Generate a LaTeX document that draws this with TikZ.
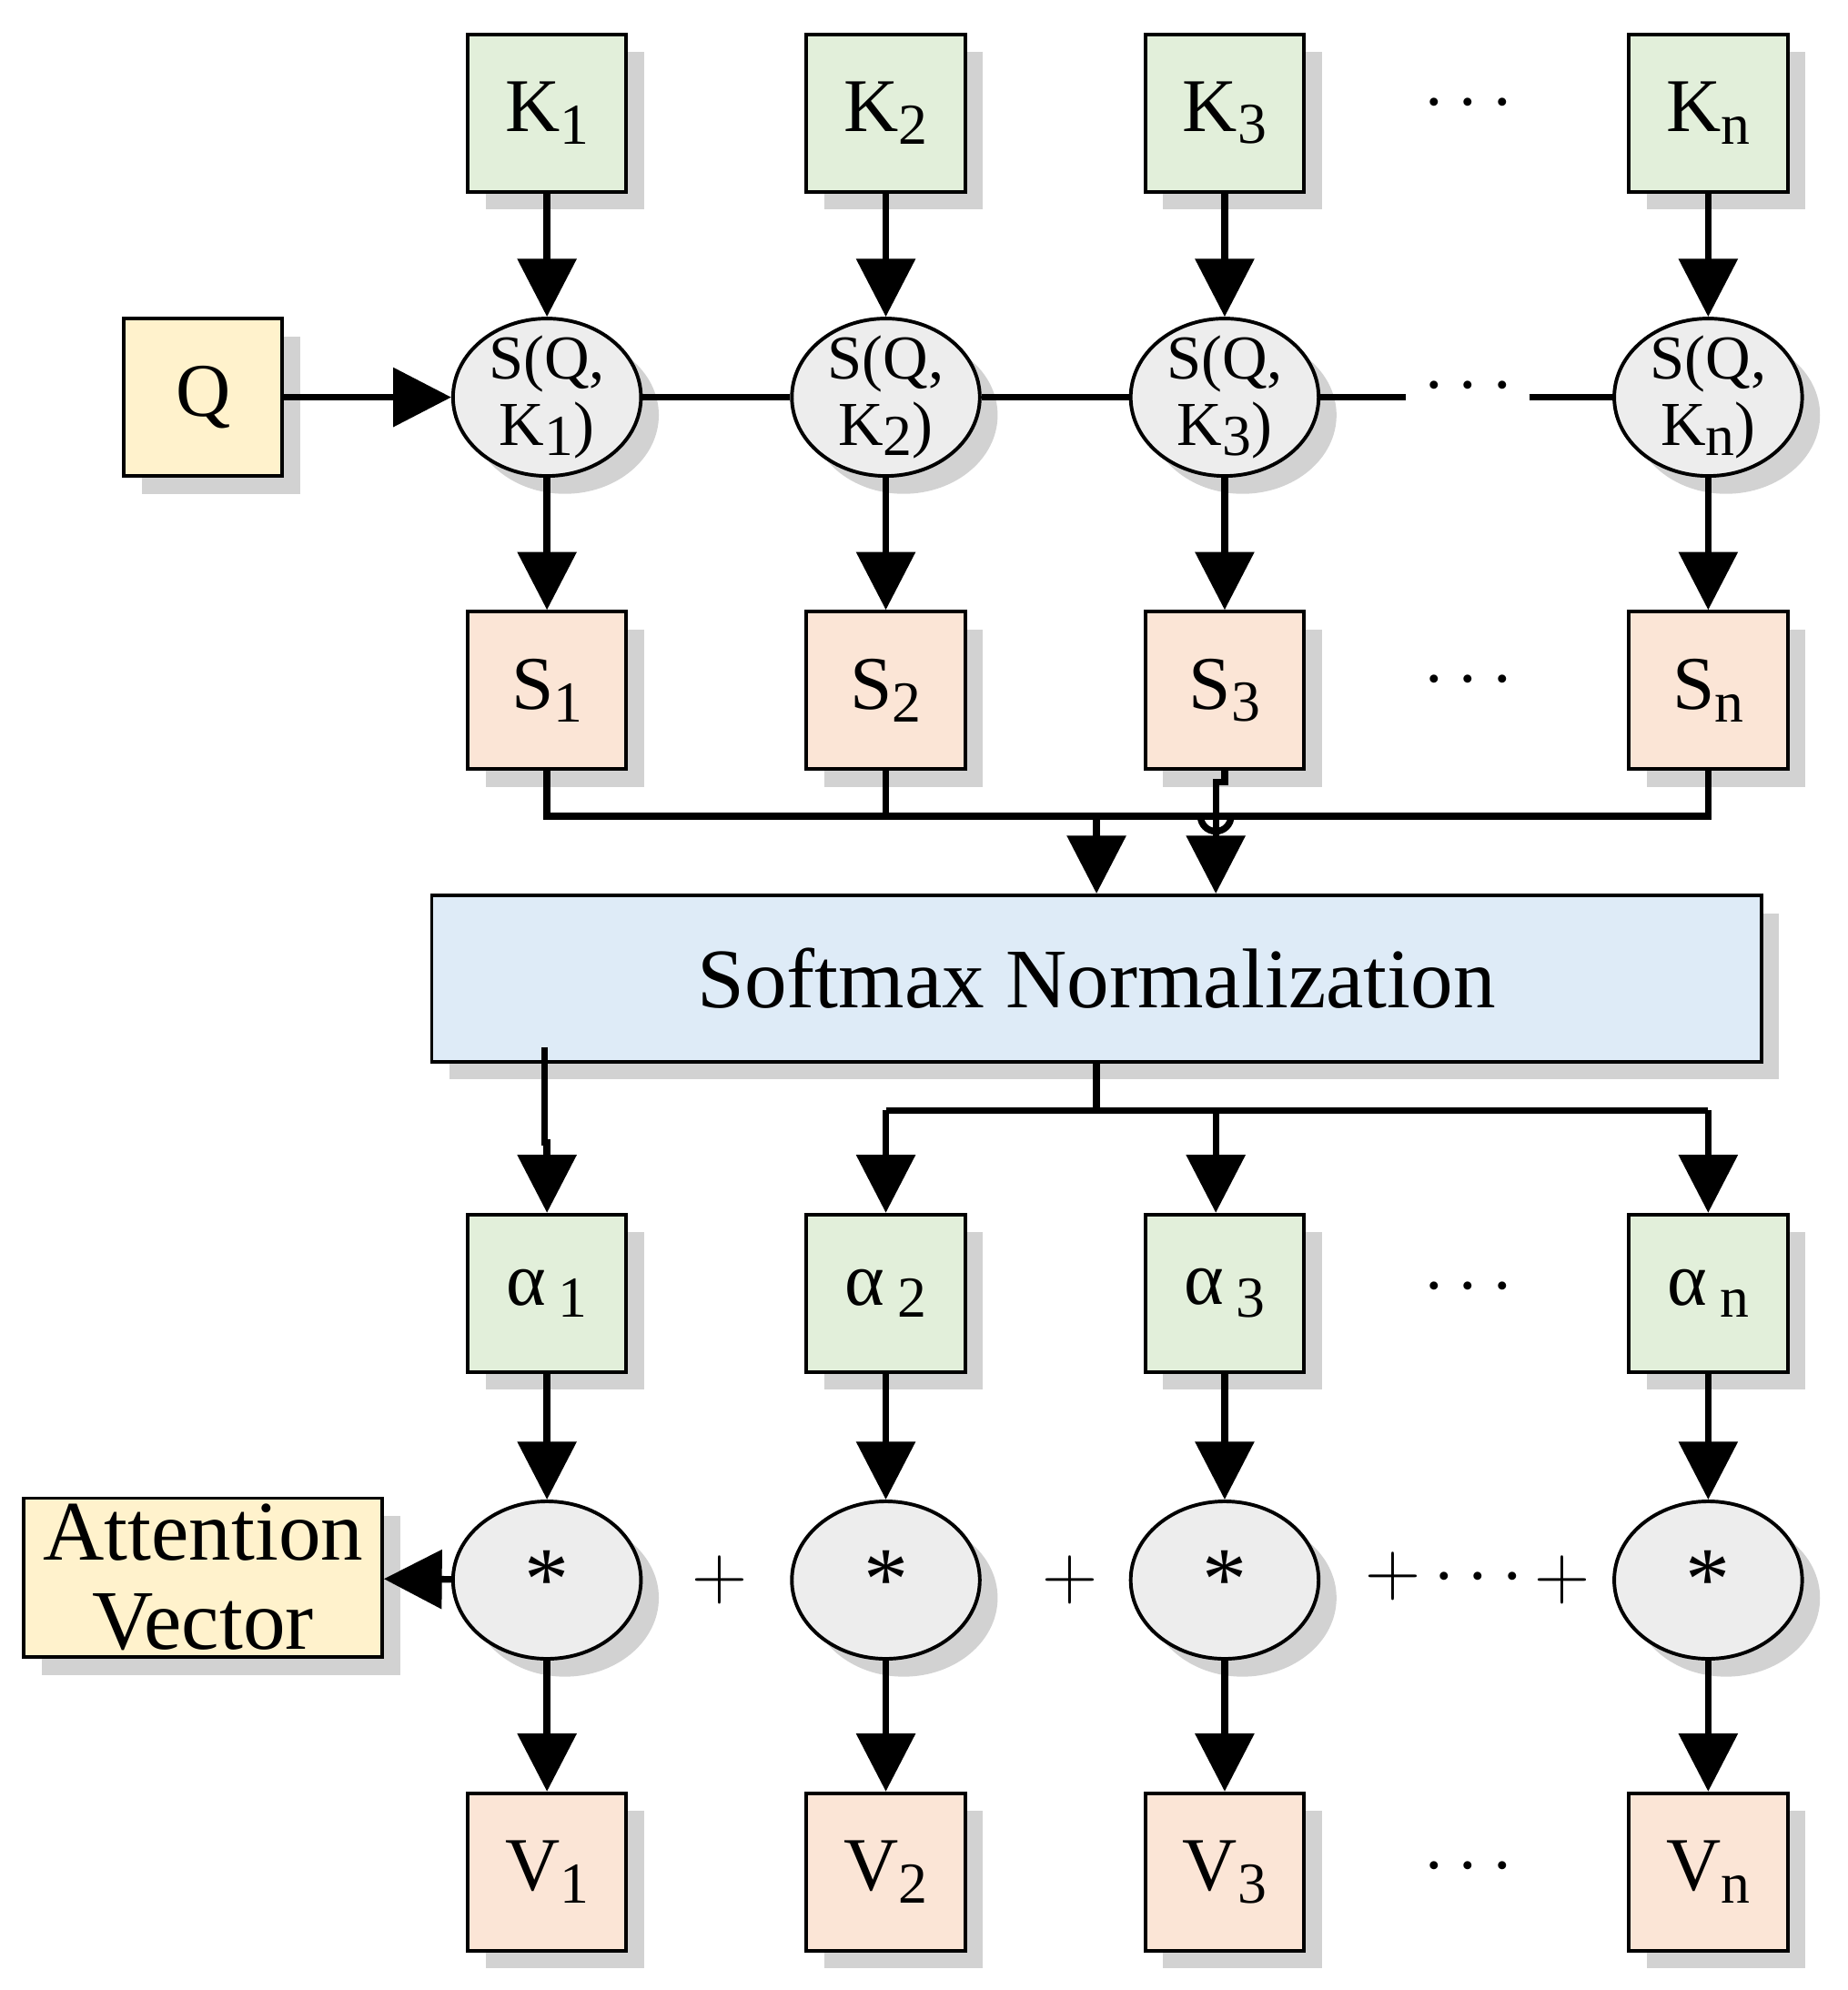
\documentclass[tikz,border=0pt]{standalone}
\usepackage{fontspec}
\setmainfont{Liberation Serif}
\usetikzlibrary{arrows.meta, shadows, positioning, shapes.geometric}
\definecolor{kgreen}{HTML}{E2EFDA}
\definecolor{sorange}{HTML}{FBE5D6}
\definecolor{qyellow}{HTML}{FFF2CC}
\definecolor{smblue}{HTML}{DEEBF7}
\definecolor{elgray}{HTML}{EDEDED}
\tikzset{
  box/.style={draw, line width=0.8pt, minimum width=1.25cm, minimum height=1.24cm, inner sep=0pt,
    font=\fontsize{17}{20}\selectfont, drop shadow={shadow xshift=4pt, shadow yshift=-4pt, fill=black!35}},
  blob/.style={draw, ellipse, fill=elgray, line width=0.8pt, minimum width=1.48cm, minimum height=1.24cm,
    inner sep=-8pt, font=\fontsize{14}{15}\selectfont, align=center,
    drop shadow={shadow xshift=4pt, shadow yshift=-4pt, fill=black!35}},
  conn/.style={line width=1.5pt},
  arr/.style={line width=1.5pt, -{Triangle[length=13pt,width=13pt]}},
  dots/.style={font=\fontsize{17}{20}\selectfont}
}
\begin{document}
\begin{tikzpicture}[x=0.01cm, y=-0.01cm]
  \useasboundingbox (0,0) rectangle (1456,1568);
  \def\sub#1{\raisebox{-0.35ex}{\fontsize{13}{15}\selectfont #1}}
  % columns
  \foreach \c/\x in {1/431, 2/698, 3/965, n/1346} {
    \node[box, fill=kgreen] (k\c) at (\x,89) {K\sub{\c}};
    \node[blob] (e\c) at (\x,313) {S(Q,\\K\sub{\c})};
    \node[box, fill=sorange] (s\c) at (\x,544) {S\sub{\c}};
    \node[box, fill=kgreen] (a\c) at (\x,1019) {α\,\sub{\c}};
    \node[blob, font=\fontsize{20}{22}\selectfont] (m\c) at (\x,1245) {*};
    \node[box, fill=sorange] (v\c) at (\x,1475) {V\sub{\c}};
    \draw[arr] (k\c) -- (e\c);
    \draw[arr] (e\c) -- (s\c);
    \draw[arr] (a\c) -- (m\c);
    \draw[arr] (m\c) -- (v\c);
  }
  % dots
  \foreach \y in {82, 537, 1015, 1472}
    \node[dots] at (1157,\y) {$\cdots$};
  \node[box, fill=qyellow] (q) at (160,313) {Q};
  \draw[arr] (q) -- (e1);
  \draw[conn] (e1) -- (e2);
  \draw[conn] (e2) -- (e3);
  \coordinate (gl) at (1108,313);
  \coordinate (gr) at (1205,313);
  \draw[conn] (e3.east) -- (gl);
  \node[dots] at (1157,305) {$\cdots$};
  \draw[conn] (gr) -- (en.west);
  % softmax
  \node[draw, line width=0.8pt, fill=smblue, minimum width=10.47cm, minimum height=1.31cm,
    font=\fontsize{19}{22}\selectfont, drop shadow={shadow xshift=4pt, shadow yshift=-4pt, fill=black!35}]
    (sm) at (864,771) {Softmax Normalization};
  % bus into softmax
  \coordinate (bn) at (1346,643);
  \draw[conn] (s1.south) |- (bn) -- (sn.south);
  \draw[conn] (s2.south) -- (698,643);
  \draw[arr] (864,643) -- (sm.north -| 864,0);
  \draw[conn] (s3.south) -- (965,616) -- (958,616) -- (958,631);
  \draw[conn] (946,643) arc[start angle=180, end angle=0, radius=12];
  \draw[arr] (958,631) -- (sm.north -| 958,0);
  % softmax out
  \draw[arr] (429,825) -- (429,900) -- (431,900) -- (a1);
  \coordinate (t) at (864,875);
  \draw[conn] (sm.south -| t) -- (t);
  \draw[conn] (698,875) -- (1346,875);
  \draw[arr] (698,875) -- (a2);
  \draw[arr] (958,875) -- (a3.north -| 958,0);
  \draw[arr] (1346,875) -- (an);
  % attention vector
  \node[box, fill=qyellow, minimum width=2.82cm, minimum height=1.25cm, align=center,
    font=\fontsize{19}{20}\selectfont] (att) at (160,1243) {Attention\\Vector};
  \draw[arr] (m1) -- (att);
  \node[dots] at (567,1245) {$+$};
  \node[dots] at (843,1245) {$+$};
  \node[dots] at (1138,1242) {$+\cdots$};
  \node[dots] at (1231,1245) {$+$};
\end{tikzpicture}
\end{document}
